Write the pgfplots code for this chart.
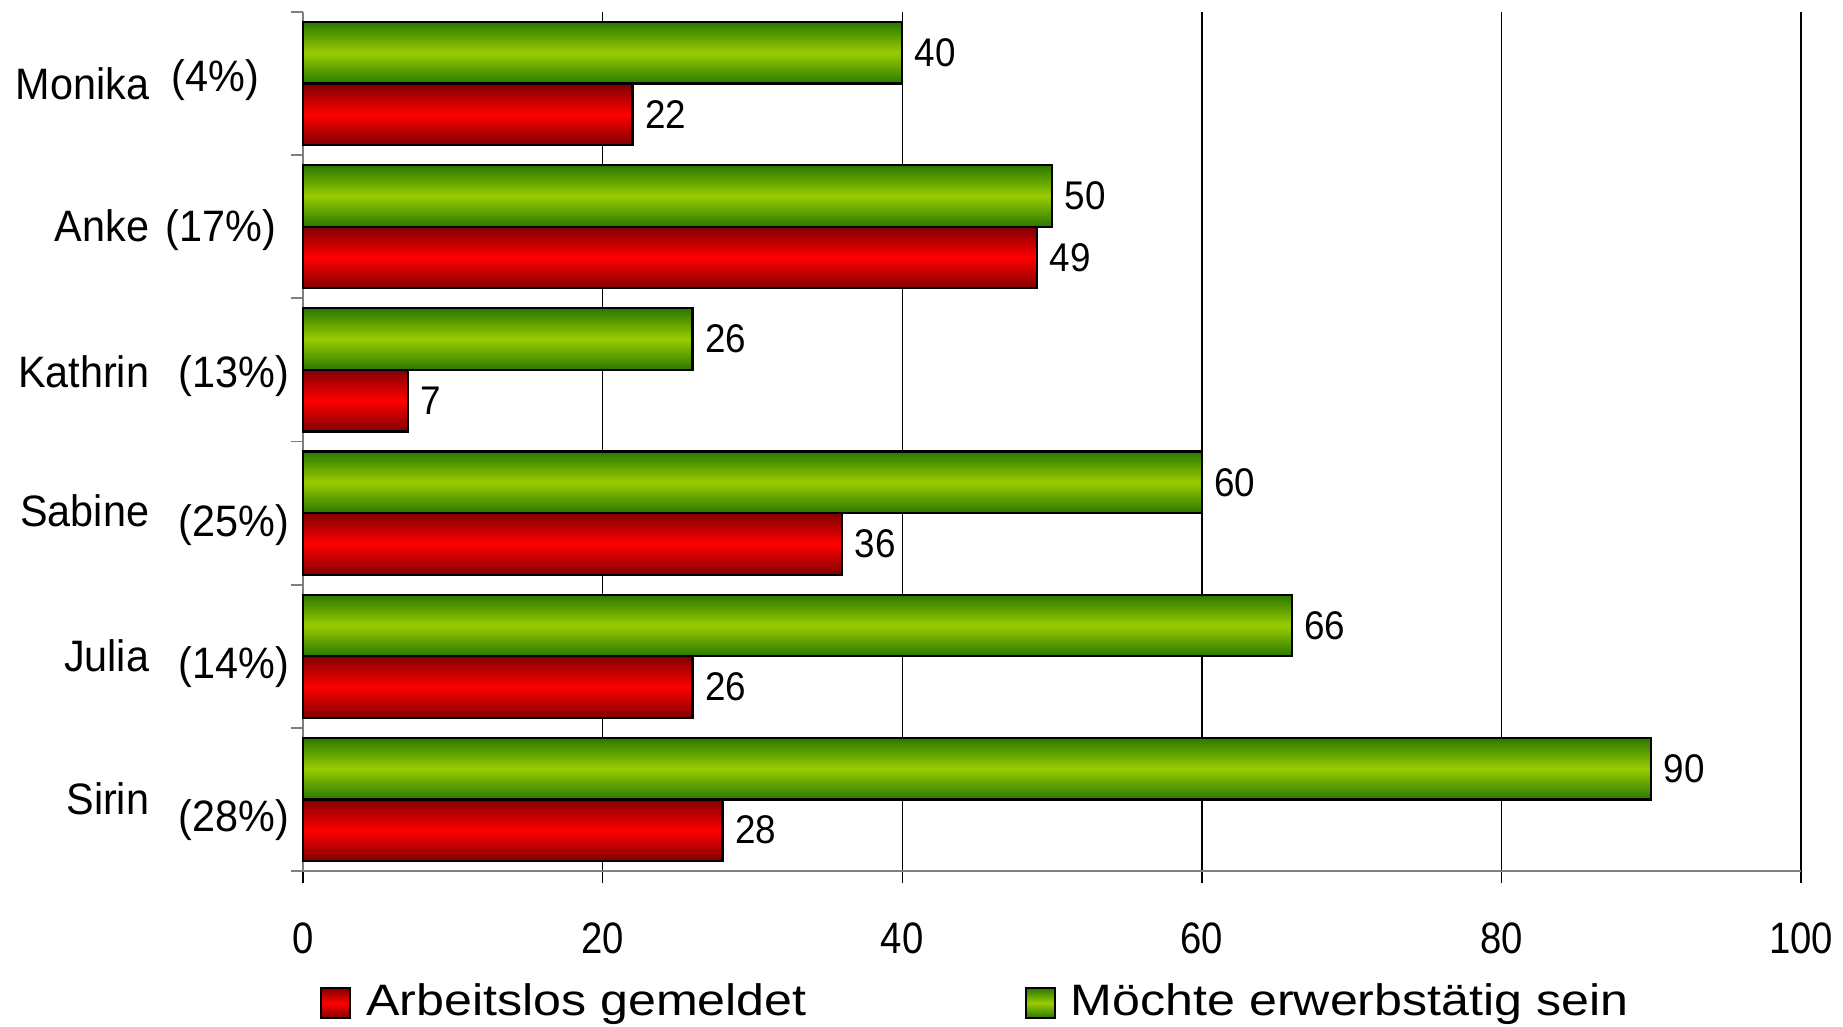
\documentclass[border=0pt]{standalone}
\usepackage{fontspec}
\setmainfont{Liberation Sans}
\newfontfamily\tickfont{Liberation Sans}[FakeStretch=0.87]
\newfontfamily\namefont{Liberation Sans}[FakeStretch=0.94]
\newfontfamily\legfont{Liberation Sans}[FakeStretch=1.14]
\newfontfamily\datafont{Liberation Sans}[FakeStretch=0.92]
\usepackage{pgfplots}
\pgfplotsset{compat=1.18}
\definecolor{gdark}{HTML}{2A7800}
\definecolor{glight}{HTML}{99CC00}
\definecolor{rdark}{HTML}{800000}
\definecolor{rlight}{HTML}{FF0000}
\definecolor{axgray}{HTML}{808080}
\pgfplotsset{
  rfill/.style={draw=black, line width=0.55pt, top color=rdark, bottom color=rdark, middle color=rlight},
  gfill/.style={draw=black, line width=0.55pt, top color=gdark, bottom color=gdark, middle color=glight},
  rbar/.style={rfill, bar shift=-7.7pt, forget plot},
  gbar/.style={gfill, bar shift=7.7pt, forget plot},
}
\begin{document}
\begin{tikzpicture}[lab/.style={anchor=base east, inner sep=0pt, font=\namefont\fontsize{11}{13}\selectfont}]
\begin{axis}[name=ax, scale only axis, width=374.5pt, height=214.75pt,
 xmin=0, xmax=100, ymin=-0.5, ymax=5.5,
 axis x line*=bottom, axis y line*=left,
 x axis line style={draw=axgray, line width=0.7pt, -},
 y axis line style={draw=axgray, line width=0.45pt, -},
 xtick={0,20,...,100}, ytick={-0.5,0.5,...,5.5}, yticklabels={},
 tick align=outside, major tick length=3.1pt,
 x tick style={black, line width=0.35pt},
 y tick style={axgray, line width=0.45pt},
 xmajorgrids, major grid style={black, line width=0.35pt},
 /pgf/number format/assume math mode=true,
 xticklabel style={font=\tickfont\fontsize{11}{13}\selectfont, anchor=center, yshift=-13.7pt},
 xbar, bar width=15.4pt,
 nodes near coords,
 nodes near coords style={font=\datafont\fontsize{10}{12}\selectfont, anchor=west, inner sep=2.9pt, text=black},
 clip=false,
 legend columns=2,
 legend style={draw=none, fill=none, at={(axis description cs:0.01135,-0.1537)}, anchor=west,
   inner sep=0pt, outer sep=0pt, font=\legfont\fontsize{11}{13}\selectfont,
   nodes={inner sep=0pt, anchor=west},
   /tikz/every even column/.append style={column sep=54.5pt},
   /tikz/every odd column/.append style={column sep=3.75pt}},
 legend image code/.code={\draw[#1] (0pt,-3.75pt) rectangle (7.25pt,3.75pt);},
]
% Arbeitslos gemeldet (red)
\addplot[rbar] coordinates {(22,5)};
\addplot[rbar] coordinates {(49,4)};
\addplot[rbar] coordinates {(7,3)};
\addplot[rbar] coordinates {(36,2)};
\addplot[rbar] coordinates {(26,1)};
\addplot[rbar] coordinates {(28,0)};
% Moechte erwerbstaetig sein (green)
\addplot[gbar] coordinates {(40,5)};
\addplot[gbar] coordinates {(50,4)};
\addplot[gbar] coordinates {(26,3)};
\addplot[gbar] coordinates {(60,2)};
\addplot[gbar] coordinates {(66,1)};
\addplot[gbar] coordinates {(90,0)};
\addlegendimage{rfill}
\addlegendentry{Arbeitslos gemeldet}
\addlegendimage{gfill}
\addlegendentry{Möchte erwerbstätig sein}
\end{axis}
\node[lab] at ([shift={(-38.25pt,192.75pt)}]ax.south west) {Monika};
\node[lab] at ([shift={(-10.75pt,194.75pt)}]ax.south west) {(4\%)};
\node[lab] at ([shift={(-38.25pt,157.25pt)}]ax.south west) {Anke};
\node[lab] at ([shift={(-6.5pt,157.25pt)}]ax.south west) {(17\%)};
\node[lab] at ([shift={(-38.25pt,120.75pt)}]ax.south west) {Kathrin};
\node[lab] at ([shift={(-3.25pt,120.75pt)}]ax.south west) {(13\%)};
\node[lab] at ([shift={(-38.25pt,86pt)}]ax.south west) {Sabine};
\node[lab] at ([shift={(-3.25pt,83.5pt)}]ax.south west) {(25\%)};
\node[lab] at ([shift={(-38.25pt,49.75pt)}]ax.south west) {Julia};
\node[lab] at ([shift={(-3.25pt,48pt)}]ax.south west) {(14\%)};
\node[lab] at ([shift={(-38.25pt,14pt)}]ax.south west) {Sirin};
\node[lab] at ([shift={(-3.25pt,9.75pt)}]ax.south west) {(28\%)};
\pgfresetboundingbox
\path[use as bounding box] ([shift={(-75.75pt,-39pt)}]ax.south west) rectangle ([shift={(385pt,217.75pt)}]ax.south west);
\end{tikzpicture}
\end{document}
